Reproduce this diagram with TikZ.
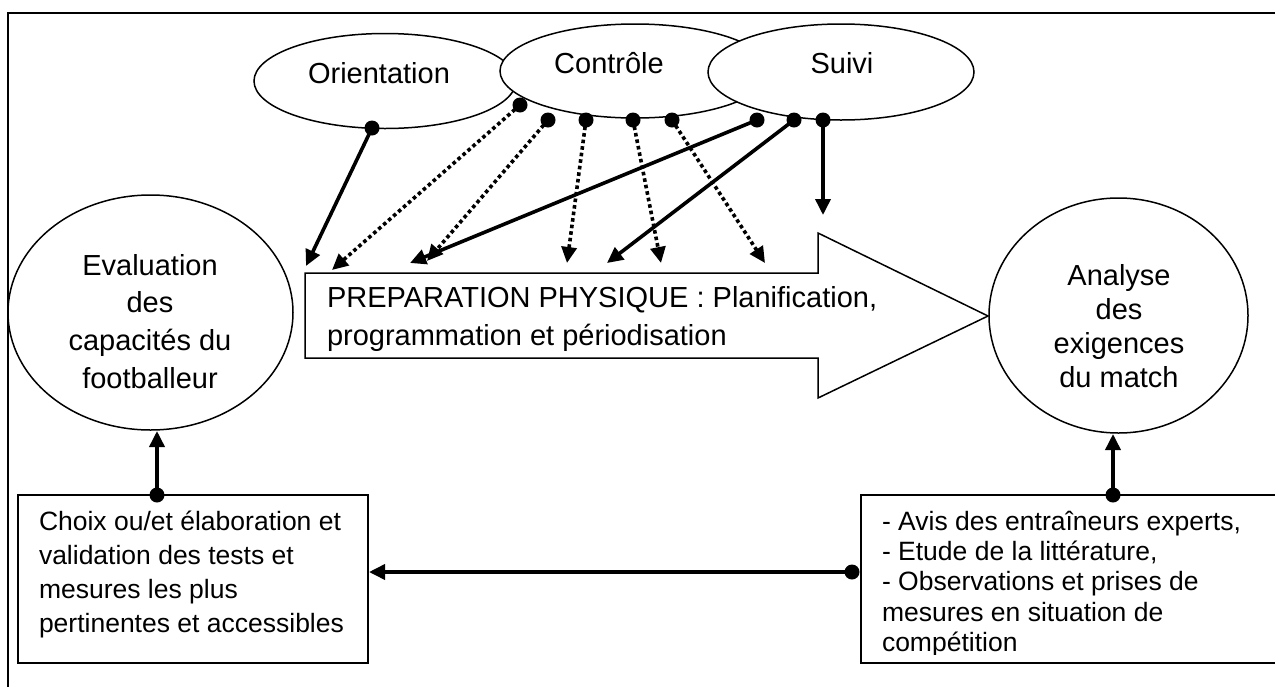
\documentclass[tikz,border=0pt]{standalone}
\usepackage{fontspec}
\setmainfont{Liberation Sans}
\usetikzlibrary{arrows.meta,shapes.geometric}
\begin{document}
\begin{tikzpicture}[x=1pt,y=-1pt,
  oval/.style={draw, ellipse, line width=1.5pt, fill=white, inner sep=0pt},
  boxnode/.style={draw, rectangle, line width=1.6pt, fill=white, inner sep=0pt},
  txt/.style={inner sep=0pt, outer sep=0pt},
  solidarr/.style={line width=3.6pt, -{Triangle[length=16pt,width=15pt]}},
  dotarr/.style={line width=3.6pt, dash pattern=on 3.6pt off 3pt, -{Triangle[length=16pt,width=15pt]}},
  dotmark/.style={fill=black},
  frameline/.style={line width=2.2pt},
]
\useasboundingbox (0,0) rectangle (1275,686);
\clip (0,0) rectangle (1275,686);
\fill[white] (0,0) rectangle (1275,686);
\draw[frameline] (8,700) -- (8,13) -- (1290,13);

% top ellipses
\node[oval, minimum width=262pt, minimum height=95pt] (orient) at (385,81) {};
\node[oval, minimum width=270pt, minimum height=94pt] (ctrl) at (635,71) {};
\node[oval, minimum width=266pt, minimum height=96pt] (suivi) at (841,72) {};
\node[txt, anchor=base, font=\fontsize{29}{37}\selectfont] (orientlbl) at (379,83) {Orientation};
\node[txt, anchor=base, font=\fontsize{29}{37}\selectfont] (ctrllbl) at (609,73) {Contrôle};
\node[txt, anchor=base, font=\fontsize{29}{37}\selectfont] (suivilbl) at (842,73) {Suivi};

% side ellipses
\node[oval, minimum width=285pt, minimum height=235pt] (eval) at (150.5,312.5) {};
\node[oval, minimum width=259pt, minimum height=235pt] (ana) at (1118.5,315.5) {};
\node[txt, anchor=base, font=\fontsize{29}{37.7}\selectfont] (evallbl) at (150,275)
  {\begin{tabular}[t]{@{}c@{}}Evaluation\\des\\capacités du\\footballeur\end{tabular}};
\node[txt, anchor=base, font=\fontsize{29}{34}\selectfont] (analbl) at (1119,285)
  {\begin{tabular}[t]{@{}c@{}}Analyse\\des\\exigences\\du match\end{tabular}};

% big block arrow
\draw[line width=1.5pt, fill=white] (305,273) -- (818,273) -- (818,233) -- (988,316)
  -- (818,398) -- (818,358) -- (305,358) -- cycle;
\coordinate (prep) at (305,273);
\node[txt, anchor=base west, font=\fontsize{29}{38}\selectfont] (preplbl) at (327,307)
  {\begin{tabular}[t]{@{}l@{}}PREPARATION PHYSIQUE : Planification,\\programmation et périodisation\end{tabular}};

% bottom boxes
\node[boxnode, minimum width=350pt, minimum height=168pt] (tests) at (193,579) {};
\node[boxnode, minimum width=429pt, minimum height=168pt] (sources) at (1075.5,579) {};
\node[txt, anchor=base west, font=\fontsize{26.5}{34.3}\selectfont] (testslbl) at (39,530)
  {\begin{tabular}[t]{@{}l@{}}Choix ou/et élaboration et\\validation des tests et\\mesures les plus\\pertinentes et accessibles\end{tabular}};
\begin{scope}
\clip (862,496) rectangle (1275,654);
\node[txt, anchor=base west, font=\fontsize{26.5}{30.4}\selectfont] (sourceslbl) at (882,530)
  {\begin{tabular}[t]{@{}l@{}}- Avis des entraîneurs experts,\\- Etude de la littérature,\\- Observations et prises de\\mesures en situation de\\compétition\end{tabular}};
\end{scope}

% dot coordinates
\coordinate (o1) at (372,128);
\coordinate (c1) at (520,105);
\coordinate (c2) at (548,120);
\coordinate (c3) at (586,120);
\coordinate (c4) at (633,120);
\coordinate (c5) at (672,120);
\coordinate (s1) at (757,120);
\coordinate (s2) at (794,120);
\coordinate (s3) at (823,120);
\coordinate (b1) at (157,495);
\coordinate (b2) at (1113,495);
\coordinate (b3) at (852,572);
% tip coordinates
\coordinate (t1) at (306,266);
\coordinate (t2) at (332,270);
\coordinate (t3) at (427,261);
\coordinate (t4) at (567,263);
\coordinate (t5) at (661,263);
\coordinate (t6) at (765,263);
\coordinate (t7) at (410,263);
\coordinate (t8) at (607,263);
\coordinate (t9) at (823,215);
\coordinate (t10) at (157,431);
\coordinate (t11) at (1113,434);
\coordinate (t12) at (369,572);

\draw[solidarr] (o1) -- (t1);
\draw[dotarr] (c1) -- (t2);
\draw[dotarr] (c2) -- (t3);
\draw[dotarr] (c3) -- (t4);
\draw[dotarr] (c4) -- (t5);
\draw[dotarr] (c5) -- (t6);
\draw[solidarr] (s1) -- (t7);
\draw[solidarr] (s2) -- (t8);
\draw[solidarr] (s3) -- (t9);
\draw[solidarr] (b1) -- (t10);
\draw[solidarr] (b2) -- (t11);
\draw[solidarr] (b3) -- (t12);

\foreach \p in {o1,c1,c2,c3,c4,c5,s1,s2,s3,b1,b2,b3}
  \fill[dotmark] (\p) circle[radius=7.5pt];
\end{tikzpicture}
\end{document}
